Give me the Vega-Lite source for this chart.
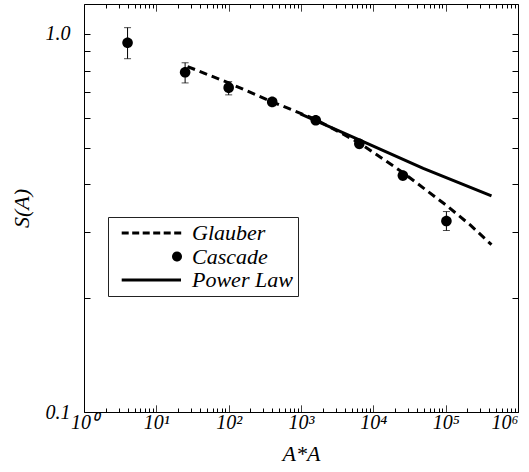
{
  "$schema": "https://vega.github.io/schema/vega-lite/v6.json",
  "width": 434,
  "height": 408,
  "autosize": {"type": "none"},
  "padding": {"left": 84, "top": 4, "right": 11, "bottom": 60},
  "background": "white",
  "config": {
    "view": {"stroke": "black", "strokeWidth": 1},
    "font": "Liberation Serif",
    "axis": {
      "grid": false,
      "ticks": true,
      "domain": false,
      "tickColor": "black",
      "tickWidth": 1,
      "labelFont": "Liberation Serif",
      "labelFontStyle": "italic",
      "labelFontSize": 20,
      "labelColor": "black",
      "labelFlush": false,
      "labelOverlap": false,
      "titleFont": "Liberation Serif",
      "titleFontStyle": "italic",
      "titleFontWeight": "normal",
      "titleFontSize": 22,
      "titleColor": "black"
    }
  },
  "datasets": {
    "glauber": [
      {"AA": 27, "S": 0.82},
      {"AA": 100, "S": 0.742},
      {"AA": 400, "S": 0.661},
      {"AA": 1600, "S": 0.594},
      {"AA": 6400, "S": 0.515},
      {"AA": 25600, "S": 0.43},
      {"AA": 102400, "S": 0.352},
      {"AA": 220000, "S": 0.312},
      {"AA": 430000, "S": 0.277}
    ],
    "power": [
      {"AA": 980, "S": 0.615},
      {"AA": 6500, "S": 0.524},
      {"AA": 49000, "S": 0.441},
      {"AA": 430000, "S": 0.373}
    ],
    "cascade": [
      {"AA": 4, "S": 0.948, "lo": 0.86, "hi": 1.039, "series": "Cascade"},
      {"AA": 25, "S": 0.792, "lo": 0.742, "hi": 0.839, "series": "Cascade"},
      {"AA": 100, "S": 0.721, "lo": 0.69, "hi": 0.748, "series": "Cascade"},
      {"AA": 400, "S": 0.661, "lo": 0.648, "hi": 0.674, "series": "Cascade"},
      {"AA": 1600, "S": 0.591, "lo": 0.58, "hi": 0.602, "series": "Cascade"},
      {"AA": 6400, "S": 0.512, "lo": 0.503, "hi": 0.521, "series": "Cascade"},
      {"AA": 25600, "S": 0.422, "lo": 0.414, "hi": 0.43, "series": "Cascade"},
      {"AA": 102400, "S": 0.32, "lo": 0.302, "hi": 0.339, "series": "Cascade"}
    ]
  },
  "resolve": {"axis": {"x": "independent", "y": "independent"}},
  "layer": [
    {
      "data": {"name": "glauber"},
      "mark": {"type": "line", "color": "black", "strokeWidth": 3, "strokeDash": [8, 5]},
      "encoding": {
        "x": {
          "field": "AA", "type": "quantitative",
          "scale": {"type": "log", "domain": [1, 1000000], "nice": false},
          "axis": {
            "orient": "bottom",
            "title": "A*A",
            "offset": -7,
            "tickSize": 7,
            "values": [1,2,3,4,5,6,7,8,9,10,20,30,40,50,60,70,80,90,100,200,300,400,500,600,700,800,900,1000,2000,3000,4000,5000,6000,7000,8000,9000,10000,20000,30000,40000,50000,60000,70000,80000,90000,100000,200000,300000,400000,500000,600000,700000,800000,900000,1000000],
            "labelExpr": "abs(log(datum.value)/LN10 - round(log(datum.value)/LN10)) < 1e-6 ? '10' + ['⁰','¹','²','³','⁴','⁵','⁶'][round(log(datum.value)/LN10)] : ''",
            "labelAlign": {"condition": {"test": "datum.value > 500000", "value": "right"}, "value": "center"},
            "tickDash": {"condition": {"test": "abs(log(datum.value)/LN10 - round(log(datum.value)/LN10)) < 1e-6", "value": [1, 0]}, "value": [0, 3, 4, 30]},
            "labelPadding": 0,
            "titlePadding": 11
          }
        },
        "y": {
          "field": "S", "type": "quantitative",
          "scale": {"type": "log", "domain": [0.1, 1.2], "nice": false},
          "axis": {
            "orient": "left",
            "title": "S(A)",
            "offset": -6,
            "tickSize": 6,
            "values": [0.1,0.2,0.3,0.4,0.5,0.6,0.7,0.8,0.9,1.0],
            "labelExpr": "abs(datum.value-1) < 1e-6 ? '1.0' : (abs(datum.value-0.1) < 1e-6 ? '0.1' : '')",
            "labelPadding": 14,
            "titlePadding": 12
          }
        }
      }
    },
    {
      "data": {"name": "power"},
      "mark": {"type": "line", "color": "black", "strokeWidth": 3},
      "encoding": {
        "x": {
          "field": "AA", "type": "quantitative",
          "axis": {
            "orient": "top", "title": null, "labels": false,
            "offset": -7,
            "tickSize": 7,
            "values": [1,2,3,4,5,6,7,8,9,10,20,30,40,50,60,70,80,90,100,200,300,400,500,600,700,800,900,1000,2000,3000,4000,5000,6000,7000,8000,9000,10000,20000,30000,40000,50000,60000,70000,80000,90000,100000,200000,300000,400000,500000,600000,700000,800000,900000,1000000],
            "tickDash": {"condition": {"test": "abs(log(datum.value)/LN10 - round(log(datum.value)/LN10)) < 1e-6", "value": [1, 0]}, "value": [0, 3, 4, 30]}
          }
        },
        "y": {
          "field": "S", "type": "quantitative",
          "axis": {
            "orient": "right", "title": null, "labels": false,
            "offset": -6,
            "tickSize": 6,
            "values": [0.1,0.2,0.3,0.4,0.5,0.6,0.7,0.8,0.9,1.0]
          }
        }
      }
    },
    {
      "data": {"name": "cascade"},
      "mark": {"type": "errorbar", "ticks": {"size": 7, "color": "black", "thickness": 1}, "rule": {"color": "black", "strokeWidth": 1}},
      "encoding": {
        "x": {"field": "AA", "type": "quantitative", "axis": null},
        "y": {"field": "lo", "type": "quantitative", "axis": null},
        "y2": {"field": "hi"}
      }
    },
    {
      "data": {"name": "cascade"},
      "mark": {"type": "point", "filled": true, "size": 112, "color": "black", "opacity": 1},
      "encoding": {
        "x": {"field": "AA", "type": "quantitative", "axis": null},
        "y": {"field": "S", "type": "quantitative", "axis": null},
        "shape": {
          "field": "series", "type": "nominal",
          "scale": {
            "domain": ["Glauber", "Cascade", "Power Law"],
            "range": [
              "M-11.06,-0.3h1.4v0.6h-1.4ZM-8.96,-0.3h1.4v0.6h-1.4ZM-6.86,-0.3h1.4v0.6h-1.4ZM-4.76,-0.3h1.4v0.6h-1.4ZM-2.66,-0.3h1.4v0.6h-1.4ZM-0.56,-0.3h1.4v0.6h-1.4Z",
              "M-1,0a1,1 0 1,0 2,0a1,1 0 1,0 -2,0Z",
              "M-11.06,-0.3H0.8V0.3H-11.06Z"
            ]
          },
          "legend": {
            "title": null,
            "orient": "none",
            "legendX": 24,
            "legendY": 213,
            "padding": 5,
            "strokeColor": "#222222",
            "fillColor": "white",
            "labelFont": "Liberation Serif",
            "labelFontStyle": "italic",
            "labelFontSize": 22,
            "labelColor": "black",
            "labelOffset": 4,
            "labelLimit": 300,
            "symbolOffset": 53,
            "symbolSize": 100,
            "symbolFillColor": "black",
            "symbolOpacity": 1,
            "rowPadding": 1.5
          }
        }
      }
    }
  ]
}
